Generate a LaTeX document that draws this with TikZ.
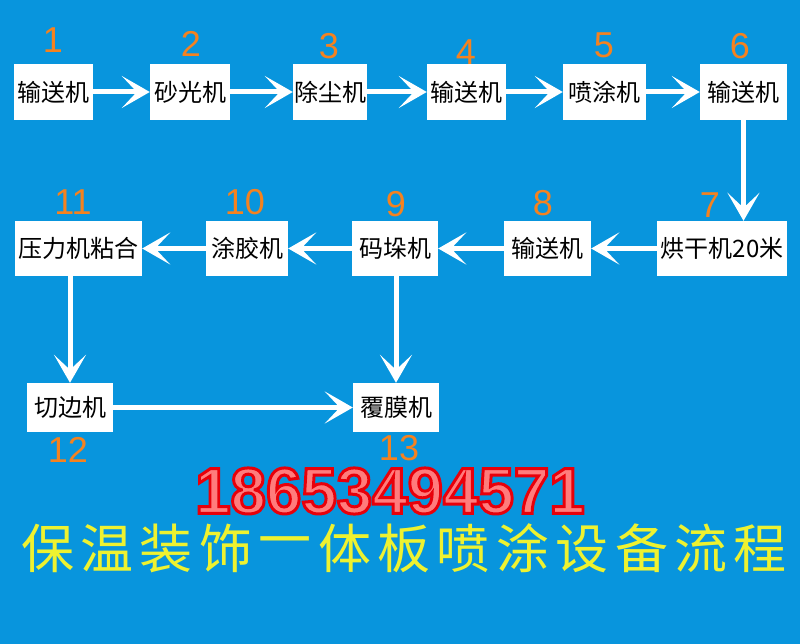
\documentclass[tikz,border=0pt]{standalone}
\usepackage{fontspec}
\usetikzlibrary{arrows.meta}
\newfontfamily\cjk{Noto Sans CJK SC}
\newfontfamily\numfont{Liberation Sans}
\definecolor{bg}{HTML}{0895DD}
\definecolor{numorange}{HTML}{F5821F}
\definecolor{titleyellow}{HTML}{EEF230}
\definecolor{phonefill}{HTML}{FF7C7C}
\definecolor{phoneline}{HTML}{E8000A}
\tikzset{
  stepbox/.style={fill=white, draw=none, inner sep=0pt, minimum height=56pt,
    font=\cjk\fontsize{24}{24}\selectfont, text=black},
  num/.style={text=numorange, inner sep=0pt, font=\numfont\fontsize{36}{36}\selectfont},
  flow/.style={draw=white, line width=5pt, -{Stealth[length=28pt 0,width=32pt 0,inset=15pt 0]}},
  phone/.style={inner sep=0pt, font=\numfont\bfseries\fontsize{65}{65}\selectfont, xscale=0.98},
  ttl/.style={inner sep=0pt, text=titleyellow, font=\cjk\fontsize{53}{53}\selectfont},
}
\begin{document}
\begin{tikzpicture}[x=1pt,y=-1pt]
\useasboundingbox (0,0) rectangle (800,644);
\fill[bg] (0,0) rectangle (800,644);

% row 1
\node[stepbox, minimum width=79pt] (b1) at (53.5,92) {输送机};
\node[stepbox, minimum width=80pt] (b2) at (190,92) {砂光机};
\node[stepbox, minimum width=74pt] (b3) at (330,92) {除尘机};
\node[stepbox, minimum width=79pt] (b4) at (466.5,92) {输送机};
\node[stepbox, minimum width=83pt] (b5) at (604.5,92) {喷涂机};
\node[stepbox, minimum width=87pt] (b6) at (743.5,92) {输送机};
% row 2
\node[stepbox, minimum width=130pt, minimum height=55pt] (b7) at (722,248.5) {烘干机20米};
\node[stepbox, minimum width=87pt, minimum height=55pt] (b8) at (547.5,248.5) {输送机};
\node[stepbox, minimum width=86pt, minimum height=55pt] (b9) at (395,248.5) {码垛机};
\node[stepbox, minimum width=82pt, minimum height=55pt] (b10) at (247,248.5) {涂胶机};
\node[stepbox, minimum width=127pt, minimum height=55pt] (b11) at (78.5,248.5) {压力机粘合};
% row 3
\node[stepbox, minimum width=86pt, minimum height=49pt] (b12) at (70,407.5) {切边机};
\node[stepbox, minimum width=86pt, minimum height=49pt] (b13) at (396,407.5) {覆膜机};

% numbers
\node[num] (n1) at (53,40) {1};
\node[num] (n2) at (191,44) {2};
\node[num] (n3) at (329,46) {3};
\node[num] (n4) at (466,52) {4};
\node[num] (n5) at (604,45) {5};
\node[num] (n6) at (740,46) {6};
\node[num] (n7) at (710,205.5) {7};
\node[num] (n8) at (543,203) {8};
\node[num] (n9) at (396,204) {9};
\node[num] (n10) at (245,202) {10};
\node[num] (n11) at (73,202) {11};
\node[num] (n12) at (68,450) {12};
\node[num] (n13) at (399,448) {13};

% connectors
\draw[flow] (b1) -- (b2);
\draw[flow] (b2) -- (b3);
\draw[flow] (b3) -- (b4);
\draw[flow] (b4) -- (b5);
\draw[flow] (b5) -- (b6);
\draw[flow] (b6.south) -- (b6.south |- b7.north);
\draw[flow] (b7) -- (b8);
\draw[flow] (b8) -- (b9);
\draw[flow] (b9) -- (b10);
\draw[flow] (b10) -- (b11);
\draw[flow] (b12.north |- b11.south) -- (b12.north);
\draw[flow] (b13.north |- b9.south) -- (b13.north);
\draw[flow] (b12) -- (b13);

% phone number: pink fill with red outline (text render mode 2)
\node[phone, text=phonefill] (phone) at (390,491)
  {\special{pdf:code 2 Tr 3 w 0.91 0 0.04 RG}18653494571\special{pdf:code 0 Tr}};

% title, one node per character
\foreach \ch [count=\i] in {保,温,装,饰,一,体,板,喷,涂,设,备,流,程}
  \node[ttl] (t\i) at ({47.5+(\i-1)*59.4},548.5) {\ch};
\end{tikzpicture}
\end{document}
